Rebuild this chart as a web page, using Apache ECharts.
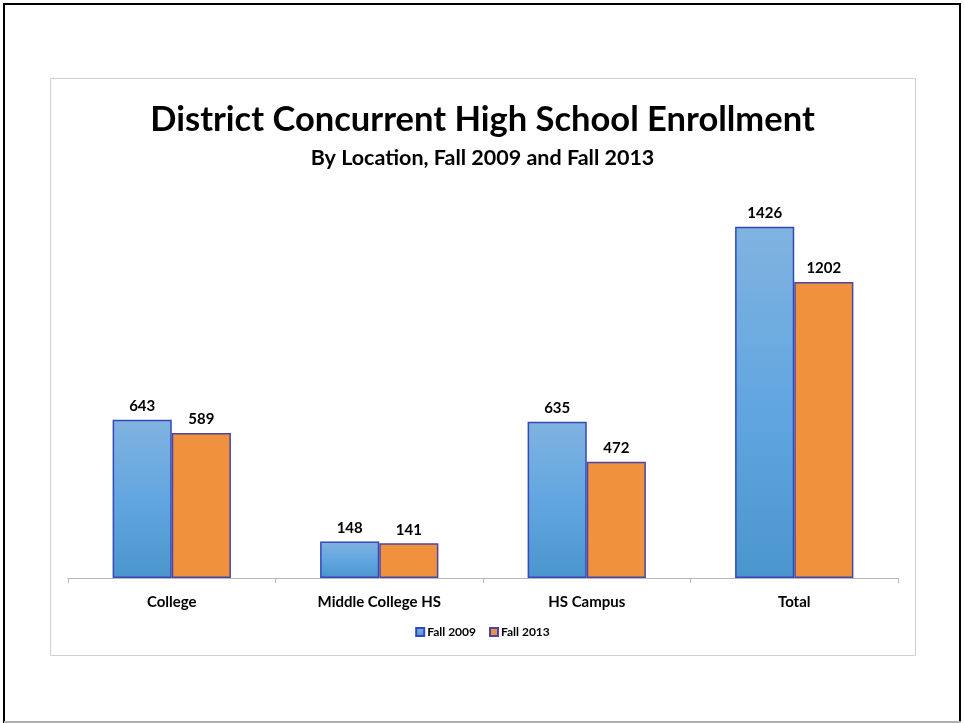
<!DOCTYPE html>
<html>
<head>
<meta charset="utf-8">
<script src="https://cdn.jsdelivr.net/npm/echarts@6/dist/echarts.min.js"></script>
<style>
html,body{margin:0;padding:0;background:#fff;}
#chart{width:965px;height:723px;}
</style>
</head>
<body>
<div id="chart"></div>
<script>
const categories = ['College', 'Middle College HS', 'HS Campus', 'Total'];
const fall2009 = [643, 148, 635, 1426];
const fall2013 = [589, 141, 472, 1202];
const seriesNames = ['Fall 2009', 'Fall 2013'];
const titleText = 'District Concurrent High School Enrollment';
const subtitleText = 'By Location, Fall 2009 and Fall 2013';

const FONT = 'Lato';
const chart = echarts.init(document.getElementById('chart'));
const blueGrad = new echarts.graphic.LinearGradient(0, 0, 0, 1, [
  {offset: 0, color: '#80b3e0'},
  {offset: 0.5, color: '#62a6e0'},
  {offset: 1, color: '#4a96cc'}
]);
const labelStyle = {show: true, position: 'top', distance: 6, color: '#000', fontFamily: FONT, fontWeight: 'bold', fontSize: 15};
chart.setOption({
  animation: false,
  backgroundColor: '#fff',
  graphic: [
    {type: 'rect', shape: {x: 4, y: 4, width: 956, height: 718}, style: {fill: 'none', stroke: '#000', lineWidth: 2}, z: -10},
    {type: 'line', shape: {x1: 4, y1: 722, x2: 961, y2: 722}, style: {stroke: '#b0b0b0', lineWidth: 2}, z: -9},
    {type: 'rect', shape: {x: 50.5, y: 78.5, width: 865, height: 577}, style: {fill: 'none', stroke: '#cfcfcf', lineWidth: 1}, z: -10}
  ],
  title: [
    {text: titleText, left: 'center', top: 97, textStyle: {fontFamily: FONT, fontWeight: 'bold', fontSize: 34.5, color: '#000'}},
    {text: subtitleText, left: 'center', top: 142, textStyle: {fontFamily: FONT, fontWeight: 'bold', fontSize: 21.5, color: '#000'}}
  ],
  legend: {
    bottom: 80, left: 'center', itemWidth: 8, itemHeight: 8, itemGap: 13,
    icon: 'rect',
    textStyle: {fontFamily: FONT, fontWeight: 'bold', fontSize: 12, color: '#000', padding: [0, 0, 0, -2]},
    data: seriesNames
  },
  grid: {left: 68, right: 67, top: 184, bottom: 145, containLabel: false},
  xAxis: {
    type: 'category', data: categories,
    axisLine: {lineStyle: {color: '#b8b8b8'}},
    axisTick: {show: true, length: 5, lineStyle: {color: '#b8b8b8'}},
    axisLabel: {color: '#000', fontFamily: FONT, fontWeight: 'bold', fontSize: 15, margin: 17}
  },
  yAxis: {type: 'value', min: 0, max: 1600, show: false, splitLine: {show: false}},
  series: [
    {name: seriesNames[0], type: 'bar', data: fall2009, barGap: '0%', barCategoryGap: '43%',
     itemStyle: {color: blueGrad, borderColor: '#3448b8', borderWidth: 1.5}, label: labelStyle},
    {name: seriesNames[1], type: 'bar', data: fall2013,
     itemStyle: {color: '#f0913d', borderColor: '#4a45a8', borderWidth: 1.5}, label: labelStyle}
  ]
});
</script>
</body>
</html>
